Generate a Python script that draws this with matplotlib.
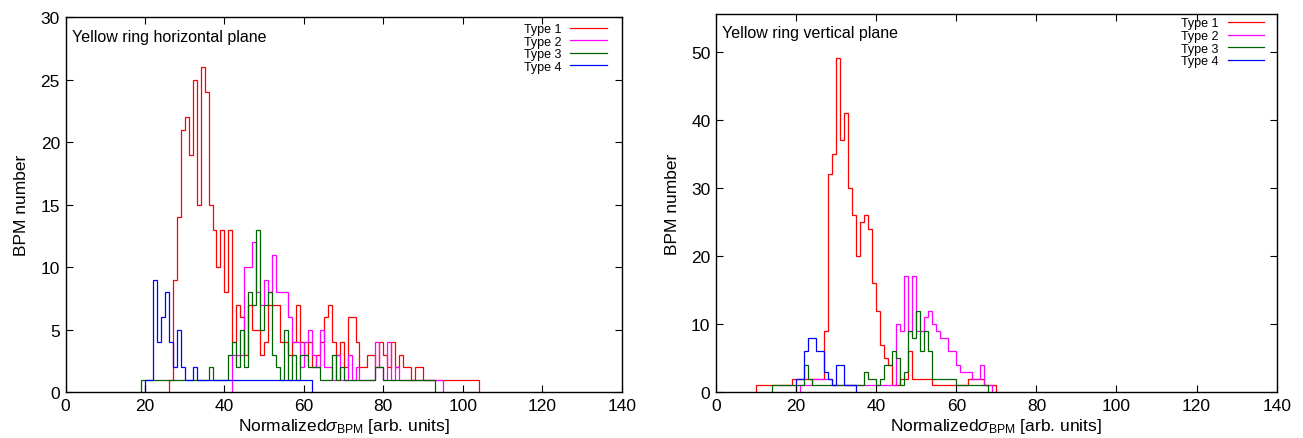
import numpy as np
import matplotlib.pyplot as plt
from matplotlib.lines import Line2D

plt.rcParams['font.family'] = ['Liberation Sans', 'DejaVu Sans']
plt.rcParams['mathtext.fontset'] = 'custom'
plt.rcParams['mathtext.rm'] = 'Liberation Sans'
plt.rcParams['mathtext.it'] = 'Liberation Sans:italic'

# BPM counts per 1-unit bin of normalized sigma, first bin edge stored separately
# horizontal plane
h_t1_start = 26
h_t1 = [1, 9, 14, 21, 22, 19, 25, 15, 26, 24, 15, 13, 10, 13, 8, 13,
        4, 7, 6, 3, 7, 5, 5, 3, 4, 7, 7, 7, 4, 4, 3, 4, 7, 4, 3, 4,
        2, 3, 4, 6, 7, 4, 3, 4, 2, 6, 6, 4, 2, 2, 3, 3, 2, 4, 3, 2,
        4, 2, 3, 2, 2, 1, 2, 2, 1, 1, 1, 1, 1, 1, 1, 1, 1, 1, 1, 1,
        1, 1]
h_t2_start = 42
h_t2 = [3, 3, 3, 10, 10, 12, 8, 7, 9, 8, 11, 8, 8, 8, 6, 4, 4, 2, 4, 5,
        3, 2, 5, 2, 2, 1, 3, 1, 1, 3, 1, 2, 1, 1, 1, 1, 4, 2, 1, 4,
        1, 2, 1, 1, 1, 1, 1, 1, 1, 1, 1, 1, 1]
h_t3_start = 19
h_t3 = [1, 1, 1, 1, 1, 1, 1, 1, 1, 1, 1, 1, 1, 1, 1, 1, 1, 2, 1, 1,
        1, 1, 3, 4, 2, 5, 2, 8, 7, 13, 5, 7, 8, 3, 2, 1, 5, 1, 3, 1,
        3, 3, 2, 2, 2, 1, 1, 1, 3, 1, 2, 1, 1, 1, 1, 1, 1, 1, 1, 2,
        2, 1, 1, 1, 1, 1, 1, 1, 1, 1, 1, 1, 1, 1]
h_t4_start = 20
h_t4 = [1, 1, 9, 4, 6, 8, 4, 2, 5, 2, 1, 1, 2, 1, 1, 1, 1, 1, 1, 1,
        1, 1, 1, 1, 1, 1, 1, 1, 1, 1, 1, 1, 1, 1, 1, 1, 1, 1, 1, 1,
        1, 1]

# vertical plane
v_t1_start = 10
v_t1 = [1, 1, 1, 1, 1, 1, 1, 1, 1, 2, 2, 2, 2, 2, 2, 2, 2, 9, 32, 35,
        49, 37, 41, 30, 26, 20, 25, 26, 24, 16, 12, 7, 5, 4, 1, 1, 2, 2, 6, 2,
        2, 2, 2, 2, 1, 1, 1, 1, 1, 1, 1, 1, 1, 2, 2, 2, 2, 1, 1, 1]
v_t2_start = 21
v_t2 = [1, 1, 1, 2, 2, 2, 2, 2, 1, 1, 1, 1, 1, 1, 1, 1, 1, 1, 1, 1,
        1, 1, 1, 1, 10, 9, 17, 9, 17, 9, 9, 11, 12, 10, 9, 8, 8, 6, 6, 4,
        3, 3, 3, 2, 2, 4, 1, 1]
v_t3_start = 14
v_t3 = [1, 1, 1, 1, 1, 1, 1, 1, 4, 2, 1, 1, 1, 1, 1, 1, 1, 1, 1, 1,
        1, 1, 1, 3, 2, 2, 1, 2, 4, 4, 6, 5, 1, 3, 9, 8, 12, 6, 9, 6,
        2, 2, 2, 2, 2, 2, 1, 1, 1, 1, 1, 1, 1, 1]
v_t4_start = 20
v_t4 = [2, 2, 6, 8, 8, 6, 6, 3, 2, 1, 4, 4, 1, 1, 1]

type_labels = ['Type 1', 'Type 2', 'Type 3', 'Type 4']
type_colors = ['#ff0000', '#ff00ff', '#006400', '#0000ff']


def draw_panel(ax, series, ymax, yticks, title, legend_anchor):
    for (start, counts), color in zip(series, type_colors):
        edges = np.arange(start, start + len(counts) + 1)
        ax.stairs(counts, edges, baseline=0, color=color, lw=0.9)
    ax.set_xlim(0, 140)
    ax.set_ylim(0, ymax)
    ax.set_xticks(np.arange(0, 141, 20))
    ax.set_yticks(yticks)
    ax.tick_params(direction='in', top=True, right=True, length=5,
                   labelsize=12.5, pad=4)
    for s in ax.spines.values():
        s.set_linewidth(1.0)
    ax.set_xlabel(r'Normalized$\sigma_{\rm BPM}$ [arb. units]', fontsize=12.5,
                  labelpad=2)
    ax.set_ylabel('BPM number', fontsize=12.5, labelpad=8)
    ax.text(0.011, 0.95, title, transform=ax.transAxes, fontsize=11.5,
            va='center', ha='left')
    handles = [Line2D([], [], color=c, lw=0.9) for c in type_colors]
    ax.legend(handles, type_labels, loc='upper right', markerfirst=False,
              frameon=False, fontsize=9, handlelength=2.9, handletextpad=0.7,
              labelspacing=0.05, borderpad=0, borderaxespad=0,
              bbox_to_anchor=legend_anchor)


fig = plt.figure(figsize=(13.03, 4.39), dpi=100)
ax1 = fig.add_axes([0.0503, 0.1041, 0.4268, 0.8542])
ax2 = fig.add_axes([0.5495, 0.1041, 0.4303, 0.8617])

draw_panel(ax1, [(h_t1_start, h_t1), (h_t2_start, h_t2),
                 (h_t3_start, h_t3), (h_t4_start, h_t4)],
           30, np.arange(0, 31, 5), 'Yellow ring horizontal plane',
           (0.973, 0.985))
draw_panel(ax2, [(v_t1_start, v_t1), (v_t2_start, v_t2),
                 (v_t3_start, v_t3), (v_t4_start, v_t4)],
           55.5, np.arange(0, 51, 10), 'Yellow ring vertical plane',
           (0.977, 0.991))

fig.savefig('out.png', dpi=100)
